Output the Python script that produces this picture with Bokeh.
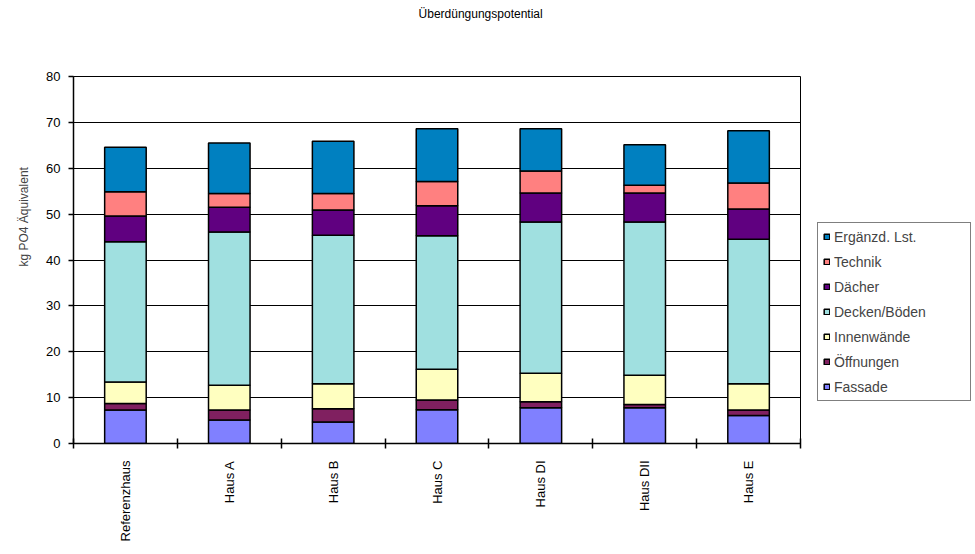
import numpy as np
from bokeh.plotting import figure
from bokeh.models import (ColumnDataSource, FixedTicker, Legend, LegendItem, Title, Range1d, LinearAxis)
from bokeh.embed import file_html
from bokeh.resources import INLINE

categories = ["Referenzhaus", "Haus A", "Haus B", "Haus C", "Haus DI", "Haus DII", "Haus E"]
fassade = [7.3, 5.1, 4.7, 7.35, 7.8, 7.8, 6.1]
oeffnungen = [1.4, 2.2, 2.9, 2.15, 1.3, 0.7, 1.2]
innenwaende = [4.7, 5.4, 5.4, 6.7, 6.2, 6.4, 5.7]
decken_boeden = [30.6, 33.4, 32.4, 29.1, 33.0, 33.4, 31.5]
daecher = [5.6, 5.4, 5.5, 6.5, 6.3, 6.3, 6.6]
technik = [5.3, 3.0, 3.6, 5.3, 4.8, 1.7, 5.7]
ergaenzd = [9.7, 11.0, 11.4, 11.5, 9.2, 8.8, 11.4]
series_names = ["Fassade", "Öffnungen", "Innenwände", "Decken/Böden", "Dächer", "Technik", "Ergänzd. Lst."]
y_ticks = [0, 10, 20, 30, 40, 50, 60, 70, 80]
title_text = "Überdüngungspotential"
y_label_text = "kg PO4 Äquivalent"

colors = ["#8080FF", "#802060", "#FFFFC0", "#A0E0E0", "#600080", "#FF8080", "#0080C0"]
FONT = "Liberation Sans"
TITLE_POS = 3.92  # layout: horizontal anchor of the chart title (centred over the whole chart)

xs = [i + 0.5 for i in range(len(categories))]
keys = ["s0", "s1", "s2", "s3", "s4", "s5", "s6"]
source = ColumnDataSource(dict(x=xs, s0=fassade, s1=oeffnungen, s2=innenwaende,
                               s3=decken_boeden, s4=daecher, s5=technik, s6=ergaenzd))

p = figure(frame_width=727, frame_height=367, output_backend="svg", toolbar_location=None,
           x_range=Range1d(0, len(categories)), y_range=Range1d(0, 80),
           min_border_left=73, min_border_right=175, min_border_top=76, min_border_bottom=111)

renderers = p.vbar_stack(keys, x="x", width=0.4, source=source, fill_color=colors,
                         line_color="black", line_width=1.5)

# chart title drawn as the single label of an otherwise invisible top axis
title_axis = LinearAxis(ticker=FixedTicker(ticks=[TITLE_POS], minor_ticks=[]),
                        major_label_overrides={TITLE_POS: title_text},
                        major_tick_out=0, major_tick_in=0, major_label_standoff=56,
                        major_tick_line_color=None, axis_line_color=None,
                        minor_tick_line_color=None,
                        major_label_text_font=FONT, major_label_text_font_size="12px",
                        major_label_text_color="black")
p.add_layout(title_axis, "above")

# y label
p.add_layout(Title(text=y_label_text, align="left", offset=177, text_font=FONT,
                   text_font_size="12px", text_font_style="normal", standoff=26), "left")

xax = p.below[0]
xax.ticker = FixedTicker(ticks=xs, minor_ticks=list(range(len(categories) + 1)))
xax.major_label_overrides = {x: c for x, c in zip(xs, categories)}
xax.major_label_orientation = np.pi / 2
xax.major_tick_in = 0
xax.major_tick_out = 0
xax.minor_tick_in = 5
xax.minor_tick_out = 5
xax.minor_tick_line_color = "black"
xax.minor_tick_line_width = 1.5
xax.major_label_standoff = 12
xax.axis_line_width = 1.5
xax.axis_line_color = "black"

yax = p.left[0]
yax.ticker = FixedTicker(ticks=y_ticks, minor_ticks=[])
yax.major_tick_in = 0
yax.major_tick_out = 5
yax.major_tick_line_width = 1.5
yax.major_label_standoff = 8
yax.axis_line_width = 1.5
yax.axis_line_color = "black"

for ax in (xax, yax):
    ax.major_label_text_font = FONT
    ax.major_label_text_font_size = "13px"
    ax.major_label_text_color = "black"

p.xgrid.visible = False
p.ygrid.grid_line_color = "black"
p.ygrid.grid_line_alpha = 1
p.ygrid.grid_line_width = 1
p.outline_line_color = "black"
p.outline_line_alpha = 1
p.outline_line_width = 1

items = [LegendItem(label=n, renderers=[r]) for n, r in zip(series_names, renderers)][::-1]
legend = Legend(items=items, location=(17, 42), border_line_color="black", border_line_width=1,
                background_fill_alpha=1, glyph_width=7, glyph_height=7, label_height=17,
                label_width=131, spacing=8, padding=5, margin=0, label_standoff=4,
                label_text_font=FONT, label_text_font_size="14px")
p.add_layout(legend, "right")

open("out.html", "w").write(file_html(p, INLINE))
